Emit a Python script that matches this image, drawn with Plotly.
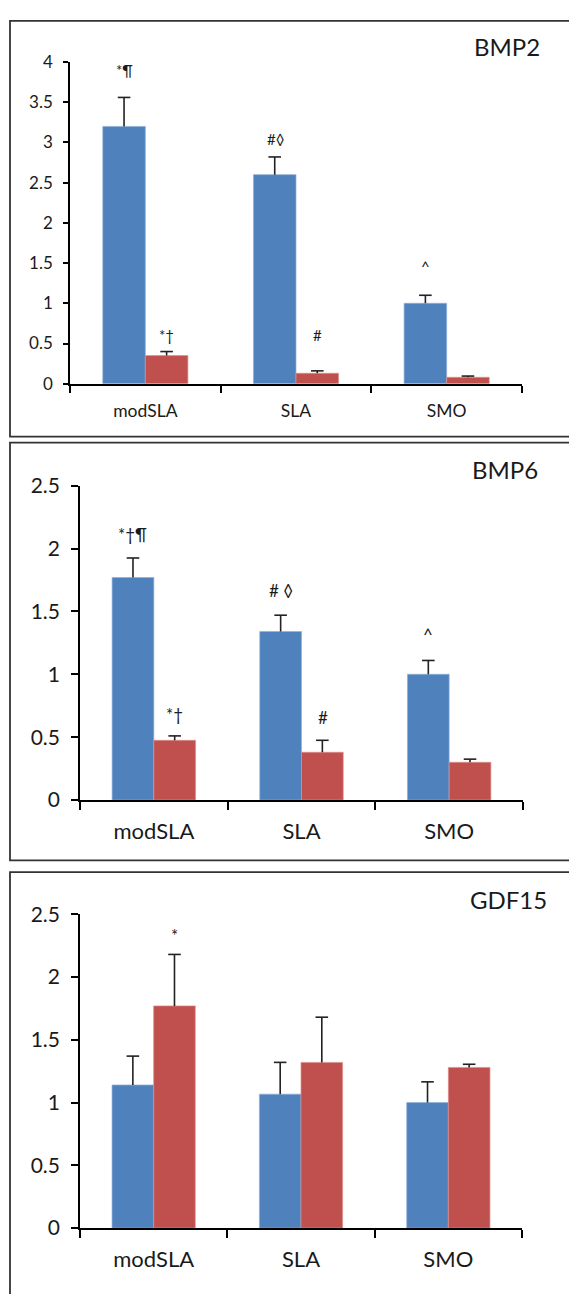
import plotly.graph_objects as go

# ---------------- data ----------------
categories = ["modSLA", "SLA", "SMO"]

bmp2_blue = [3.20, 2.60, 1.00]
bmp2_blue_err = [0.36, 0.22, 0.10]
bmp2_red = [0.35, 0.13, 0.08]
bmp2_red_err = [0.05, 0.03, 0.015]

bmp6_blue = [1.77, 1.34, 1.00]
bmp6_blue_err = [0.155, 0.13, 0.11]
bmp6_red = [0.475, 0.38, 0.30]
bmp6_red_err = [0.035, 0.095, 0.025]

gdf15_blue = [1.14, 1.067, 1.00]
gdf15_blue_err = [0.23, 0.253, 0.165]
gdf15_red = [1.77, 1.32, 1.28]
gdf15_red_err = [0.41, 0.36, 0.025]

panel_titles = ["BMP2", "BMP6", "GDF15"]
y_max = [4, 2.5, 2.5]

# significance marks: (category, series, text, y)
bmp2_marks = [("modSLA", "blue", "*¶", 3.90), ("modSLA", "red", "*†", 0.61),
              ("SLA", "blue", "#◊", 3.04), ("SLA", "red", "#", 0.61),
              ("SMO", "blue", "^", 1.47)]
bmp6_marks = [("modSLA", "blue", "*†¶", 2.11), ("modSLA", "red", "*†", 0.68),
              ("SLA", "blue", "# ◊", 1.67), ("SLA", "red", "#", 0.66),
              ("SMO", "blue", "^", 1.32)]
gdf15_marks = [("modSLA", "red", "*", 2.33)]

# ---------------- style ----------------
W, H = 569, 1294
BLUE = "#4F81BD"
RED = "#C0504D"
BLUE_EDGE = "#8fb0da"
RED_EDGE = "#dc8f8d"
FONT = "Lato"
TXT = "#1a1a1a"
ERR = "#222222"

panels = [
    dict(x0=70, x1=522, ytop=49, ybot=377, tick=17, lab=17.5, mark=15, ticklen_y=5, ticklen_x=7, sx=10),
    dict(x0=80, x1=523, ytop=481, ybot=801.5, tick=21, lab=22, mark=17, ticklen_y=7, ticklen_x=8, sx=11),
    dict(x0=80, x1=522, ytop=918, ybot=1238, tick=21, lab=22, mark=17, ticklen_y=7, ticklen_x=8, sx=11),
]
title_pos = [(472, 33), (470, 464), (468, 903)]
borders = [(10, 7, 580, 431), (10, 437, 580, 863), (10, 875, 580, 1310)]

data_sets = [
    (bmp2_blue, bmp2_blue_err, bmp2_red, bmp2_red_err, bmp2_marks),
    (bmp6_blue, bmp6_blue_err, bmp6_red, bmp6_red_err, bmp6_marks),
    (gdf15_blue, gdf15_blue_err, gdf15_red, gdf15_red_err, gdf15_marks),
]

fig = go.Figure()
layout = dict(
    width=W, height=H, margin=dict(l=0, r=0, t=0, b=0),
    paper_bgcolor="white", plot_bgcolor="white",
    showlegend=False, barmode="group", bargap=0.435, bargroupgap=0,
    scattermode="group", scattergap=0.435,
    font=dict(family=FONT, color=TXT),
    annotations=[], shapes=[],
)

for i, (p, (bv, be, rv, re_, marks)) in enumerate(zip(panels, data_sets)):
    n = "" if i == 0 else str(i + 1)
    xa, ya = "x" + n, "y" + n
    series = [(bv, be, BLUE, BLUE_EDGE, "Series 1", "g1"),
              (rv, re_, RED, RED_EDGE, "Series 2", "g2")]
    for vals, errs, col, edge, name, grp in series:
        fig.add_trace(go.Bar(
            x=categories, y=vals, name=name, xaxis=xa, yaxis=ya,
            offsetgroup=grp,
            marker=dict(color=col, line=dict(width=0.7, color=edge)),
            error_y=dict(type="data", symmetric=False, array=errs,
                         arrayminus=[0] * len(errs), color=ERR,
                         thickness=1.6, width=0),
            hoverinfo="skip",
        ))
    # caps at the top of each error bar
    for vals, errs, col, edge, name, grp in series:
        fig.add_trace(go.Scatter(
            x=categories, y=[v + e for v, e in zip(vals, errs)],
            name=name + " cap", xaxis=xa, yaxis=ya, offsetgroup=grp,
            mode="markers", cliponaxis=False,
            marker=dict(symbol="line-ew", size=9, line=dict(width=1.6, color=ERR)),
            hoverinfo="skip",
        ))
    layout["xaxis" + n] = dict(
        domain=[p["x0"] / W, p["x1"] / W], anchor=ya,
        type="category", range=[-0.5, 2.5], tickson="boundaries",
        showline=True, linecolor="black", linewidth=1.6,
        ticks="outside", ticklen=p["ticklen_x"], tickwidth=1.6, tickcolor="black",
        showgrid=False, zeroline=False, fixedrange=True,
        tickfont=dict(family=FONT, size=p["lab"], color=TXT),
        ticklabelstandoff=p["sx"],
    )
    layout["yaxis" + n] = dict(
        domain=[1 - p["ybot"] / H, 1 - p["ytop"] / H], anchor=xa,
        range=[0, y_max[i]], dtick=0.5, tick0=0,
        showline=True, linecolor="black", linewidth=1.6,
        ticks="outside", ticklen=p["ticklen_y"], tickwidth=1.6, tickcolor="black",
        showgrid=False, zeroline=False, fixedrange=True,
        tickfont=dict(family=FONT, size=p["tick"], color=TXT),
        ticklabelstandoff=7,
    )
    tx, ty = title_pos[i]
    layout["annotations"].append(dict(
        text=panel_titles[i], x=tx / W, y=1 - ty / H, xref="paper", yref="paper",
        xanchor="left", yanchor="middle", showarrow=False,
        font=dict(family=FONT, size=24, color=TXT)))
    for cat, ser, txt, yv in marks:
        layout["annotations"].append(dict(
            text=txt, x=cat, y=yv, xref=xa, yref=ya,
            xshift=-21 if ser == "blue" else 21,
            xanchor="center", yanchor="middle", showarrow=False,
            font=dict(family=FONT, size=p["mark"], color=TXT)))
    bx0, by0, bx1, by1 = borders[i]
    layout["shapes"].append(dict(
        type="rect", xref="paper", yref="paper",
        x0=bx0 / W, x1=bx1 / W, y0=1 - by1 / H, y1=1 - by0 / H,
        line=dict(color="#333333", width=1.8), fillcolor="rgba(0,0,0,0)", layer="above"))

fig.update_layout(**layout)
fig.write_html("out.html", config={"displayModeBar": False})
